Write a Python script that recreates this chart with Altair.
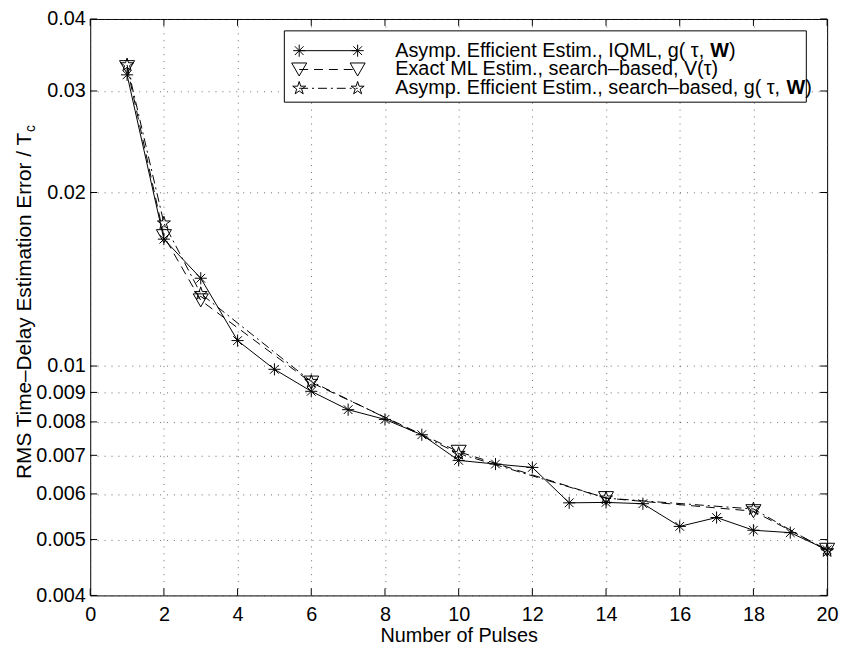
import altair as alt
import pandas as pd

# ---------------- data ----------------
pulses_all = list(range(1, 21))
rms_iqml = [0.0320, 0.0166, 0.0142, 0.01107, 0.00987, 0.00904, 0.0084, 0.00808,
            0.0076, 0.00686, 0.00676, 0.00667, 0.00579, 0.00580, 0.00577, 0.00527,
            0.00546, 0.00519, 0.00514, 0.00480]

pulses_sub = [1, 2, 3, 6, 10, 14, 18, 20]
rms_exact_ml = [0.0330, 0.0168, 0.0130, 0.00936, 0.0071, 0.0059, 0.0056, 0.0048]
rms_search = [0.0333, 0.0177, 0.01335, 0.0094, 0.00705, 0.0059, 0.00565, 0.00478]

x_ticks = [0, 2, 4, 6, 8, 10, 12, 14, 16, 18, 20]
y_ticks = [0.004, 0.005, 0.006, 0.007, 0.008, 0.009, 0.01, 0.02, 0.03, 0.04]

legend_labels = [
    "Asymp. Efficient Estim., IQML, g( \u03c4, ",
    "Exact ML Estim., search\u2013based, V(\u03c4)",
    "Asymp. Efficient Estim., search\u2013based, g( \u03c4, ",
]

FONT = "Liberation Sans"
FS = 20
W, H = 744, 582

ASTERISK = "M-1,0L1,0M0,-1L0,1M-0.72,-0.72L0.72,0.72M-0.72,0.72L0.72,-0.72"
STAR = ("M0,-1L0.225,-0.309L0.951,-0.309L0.363,0.118L0.588,0.809L0,0.382"
        "L-0.588,0.809L-0.363,0.118L-0.951,-0.309L-0.225,-0.309Z")

df1 = pd.DataFrame({"x": pulses_all, "y": rms_iqml})
df2 = pd.DataFrame({"x": pulses_sub, "y": rms_exact_ml})
df3 = pd.DataFrame({"x": pulses_sub, "y": rms_search})
dfxt = pd.DataFrame({"x": x_ticks})
dfyt = pd.DataFrame({"y": y_ticks})

xs = alt.Scale(domain=[0, 20], nice=False, zero=False)
ys = alt.Scale(type="log", domain=[0.004, 0.04], nice=False)

x_axis = alt.Axis(values=x_ticks, title="Number of Pulses", grid=True, ticks=False,
                  labelPadding=9, titlePadding=2, domain=False, labelFlush=False)
y_axis = alt.Axis(values=y_ticks, title=None, grid=True, ticks=False, format="~g",
                  labelPadding=5, domain=False, labelFlush=False)

X = alt.X("x:Q", scale=xs, axis=x_axis)
Y = alt.Y("y:Q", scale=ys, axis=y_axis)

line1 = alt.Chart(df1).mark_line(color="black", strokeWidth=1).encode(x=X, y=Y)
pts1 = alt.Chart(df1).mark_point(shape=ASTERISK, size=150, color="black",
                                 strokeWidth=1, filled=False, opacity=1).encode(x=X, y=Y)
line2 = alt.Chart(df2).mark_line(color="black", strokeWidth=1, strokeDash=[9, 6]).encode(x=X, y=Y)
pts2 = alt.Chart(df2).mark_point(shape="triangle-down", size=230, color="black",
                                 strokeWidth=1, filled=False, opacity=1).encode(x=X, y=Y)
line3 = alt.Chart(df3).mark_line(color="black", strokeWidth=1, strokeDash=[9, 4, 2, 4]).encode(x=X, y=Y)
pts3 = alt.Chart(df3).mark_point(shape=STAR, size=190, color="black",
                                 strokeWidth=1, filled=False, opacity=1).encode(x=X, y=Y)

# inward ticks (MATLAB style) on all four sides
tl = 7
yt_left = alt.Chart(dfyt).mark_rule(color="black").encode(y=Y, x=alt.value(0), x2=alt.value(tl))
yt_right = alt.Chart(dfyt).mark_rule(color="black").encode(y=Y, x=alt.value(W - tl), x2=alt.value(W))
xt_bot = alt.Chart(dfxt).mark_rule(color="black").encode(x=X, y=alt.value(H), y2=alt.value(H - tl))
xt_top = alt.Chart(dfxt).mark_rule(color="black").encode(x=X, y=alt.value(0), y2=alt.value(tl))

# y-axis title with subscript
ytitle = alt.Chart(pd.DataFrame({"t": ["RMS Time\u2013Delay Estimation Error / T"]})).mark_text(
    angle=270, align="right", baseline="middle", font=FONT, fontSize=21, color="black"
).encode(text="t:N", x=alt.value(-66), y=alt.value(115))
ysub = alt.Chart(pd.DataFrame({"t": ["c"]})).mark_text(
    angle=270, align="left", baseline="middle", font=FONT, fontSize=14, color="black"
).encode(text="t:N", x=alt.value(-60), y=alt.value(114))

# legend
LX0, LX1, LY0, LY1 = 196, 723, 12, 84
rows_y = [32, 51, 70]
mk_x = [211, 270]
text_x = 308
one = pd.DataFrame({"a": [0]})
leg_layers = [
    alt.Chart(one).mark_rect(fill="white", stroke="black", strokeWidth=1).encode(
        x=alt.value(LX0), x2=alt.value(LX1), y=alt.value(LY0), y2=alt.value(LY1))
]
styles = [
    ([], ASTERISK, 150),
    ([9, 6], "triangle-down", 230),
    ([9, 4, 2, 4], STAR, 190),
]
for i, (dash, shp, sz) in enumerate(styles):
    ry = rows_y[i]
    rule_kw = dict(color="black", strokeWidth=1)
    if dash:
        rule_kw["strokeDash"] = dash
    leg_layers.append(alt.Chart(one).mark_rule(**rule_kw).encode(
        x=alt.value(mk_x[0]), x2=alt.value(mk_x[1]), y=alt.value(ry)))
    for mx in mk_x:
        leg_layers.append(alt.Chart(one).mark_point(shape=shp, size=sz, color="black", filled=False,
                                                    strokeWidth=1, opacity=1).encode(
            x=alt.value(mx), y=alt.value(ry)))
    leg_layers.append(alt.Chart(pd.DataFrame({"t": [legend_labels[i]]})).mark_text(
        align="left", baseline="middle", font=FONT, fontSize=FS, color="black").encode(
        text="t:N", x=alt.value(text_x), y=alt.value(ry)))

# bold W and closing parens for rows 1 and 3
w_pos = [(0, 318), (2, 395)]
for i, off in w_pos:
    ry = rows_y[i]
    leg_layers.append(alt.Chart(pd.DataFrame({"t": ["W"]})).mark_text(
        align="left", baseline="middle", font=FONT, fontSize=FS, fontWeight="bold", color="black").encode(
        text="t:N", x=alt.value(text_x + off), y=alt.value(ry)))
    leg_layers.append(alt.Chart(pd.DataFrame({"t": [")"]})).mark_text(
        align="left", baseline="middle", font=FONT, fontSize=FS, color="black").encode(
        text="t:N", x=alt.value(text_x + off + 19), y=alt.value(ry)))

chart = alt.layer(
    line1, line2, line3, pts1, pts2, pts3,
    yt_left, yt_right, xt_bot, xt_top,
    ytitle, ysub, *leg_layers
).properties(
    width=W, height=H,
    autosize=alt.AutoSizeParams(type="none"),
    padding={"left": 83, "top": 8, "right": 12, "bottom": 50},
    background="white",
).configure_view(
    stroke="black", strokeWidth=1
).configure_axis(
    labelFont=FONT, labelFontSize=FS, labelColor="black",
    titleFont=FONT, titleFontSize=FS, titleFontWeight="normal", titleColor="black",
    gridColor="#444", gridDash=[1, 6], gridWidth=1, gridOpacity=0.8,
)

chart.save("out.html", embed_options={"renderer": "svg", "actions": False})
